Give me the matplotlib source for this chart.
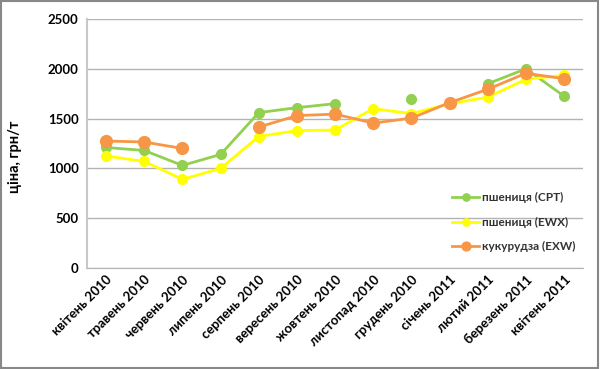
import matplotlib
matplotlib.use("Agg")
import matplotlib.pyplot as plt
import numpy as np

months = ["квітень 2010", "травень 2010", "червень 2010", "липень 2010",
          "серпень 2010", "вересень 2010", "жовтень 2010", "листопад 2010",
          "грудень 2010", "січень 2011", "лютий 2011", "березень 2011",
          "квітень 2011"]
wheat_cpt = [1210, 1180, 1030, 1140, 1560, 1610, 1650, np.nan, 1700, np.nan, 1850, 2000, 1725]
wheat_ewx = [1125, 1070, 890, 1000, 1320, 1380, 1385, 1600, 1550, 1650, 1715, 1895, 1935]
corn_exw = [1275, 1265, 1200, np.nan, 1415, 1530, 1545, 1455, 1505, 1660, 1795, 1955, 1900]
series_names = ["пшениця (CPT)", "пшениця (EWX)", "кукурудза (EXW)"]
yticks = [0, 500, 1000, 1500, 2000, 2500]

plt.rcParams['font.family'] = ['Lato', 'DejaVu Sans']

fig = plt.figure(figsize=(6, 3.69), dpi=100)
ax = fig.add_axes([0.145, 0.2737, 0.827, 0.6748])

x = np.arange(len(months))
ax.plot(x, wheat_cpt, color="#92D050", lw=2, marker="o", ms=7, label=series_names[0], zorder=3)
ax.plot(x, wheat_ewx, color="#FFFF00", lw=2, marker="o", ms=7, label=series_names[1], zorder=4)
ax.plot(x, corn_exw, color="#F79646", lw=2, marker="o", ms=8.5, label=series_names[2], zorder=5)

ax.set_xlim(-0.5, len(months) - 0.5)
ax.set_ylim(0, 2500)
ax.set_yticks(yticks)
ax.set_yticklabels([str(v) for v in yticks], fontsize=9.5, fontweight="bold")
ax.set_xticks(x)
ax.set_xticklabels(months, rotation=45, ha="right", va="top", rotation_mode="anchor",
                   fontsize=9.5, fontweight="bold")
ax.tick_params(axis="both", length=0, pad=6)
ax.tick_params(axis="x", pad=4)
ax.grid(axis="y", color="#B3B3B3", lw=1)
ax.set_axisbelow(True)
for s in ["top", "right"]:
    ax.spines[s].set_visible(False)
ax.spines["left"].set_color("#C8C8C8")
ax.spines["bottom"].set_color("#B3B3B3")
ax.spines["left"].set_linewidth(1.5)

ax.set_ylabel("ціна, грн/т", fontsize=10.5, fontweight="bold")
ax.yaxis.set_label_coords(-0.131, 0.446)

leg = ax.legend(loc="lower right", bbox_to_anchor=(1.005, 0.02), frameon=False,
                fontsize=8.5, handlelength=2.3, labelspacing=1.15, handletextpad=0.2,
                markerscale=0.75)
for t in leg.get_texts():
    t.set_fontweight("bold")
    t.set_color("#333333")

fig.patches.append(plt.Rectangle((0.002, 0.003), 0.995, 0.994, transform=fig.transFigure,
                                 fill=False, edgecolor="#888888", lw=1.5))

fig.savefig("out.png", dpi=100)
